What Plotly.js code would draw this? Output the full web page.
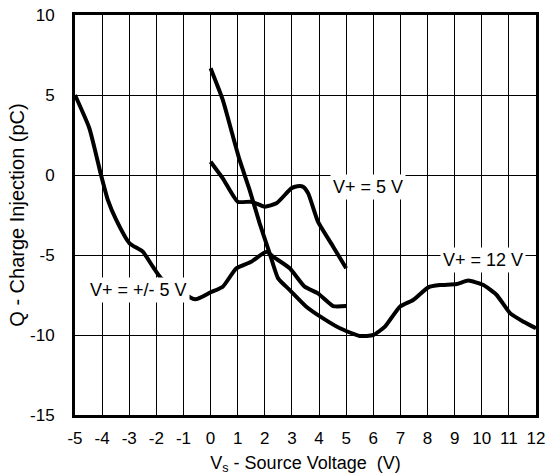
<!DOCTYPE html>
<html>
<head>
<meta charset="utf-8">
<script src="https://cdn.plot.ly/plotly-3.0.1.min.js"></script>
<style>html,body{margin:0;padding:0;background:#fff;}#chart{width:547px;height:476px;}</style>
</head>
<body>
<div id="chart"></div>
<script>
// V+ = +/- 5 V
const xPM5 = [-5, -4.47, -4.04, -3.79, -3.48, -2.99, -2.5, -2.13, -1.82, -0.57, 0.0, 0.45, 0.95, 1.5, 2.06, 2.3, 2.92, 3.47, 3.96, 4.52, 5.0];
const yPM5 = [5, 2.92, 0, -1.56, -2.81, -4.27, -4.79, -5.73, -6.46, -7.77, -7.33, -6.98, -5.83, -5.42, -4.79, -5.1, -5.83, -6.98, -7.4, -8.19, -8.19];
// V+ = 5 V
const x5 = [0, 0.45, 1.0, 1.5, 2.0, 2.43, 2.98, 3.2, 3.41, 3.6, 3.96, 4.52, 5.0];
const y5 = [0.83, -0.21, -1.67, -1.67, -1.98, -1.77, -0.83, -0.7, -0.73, -1.15, -2.92, -4.48, -5.83];
// V+ = 12 V
const x12 = [0, 0.45, 0.76, 1.07, 1.44, 1.81, 2.18, 2.49, 2.92, 3.53, 4.15, 4.77, 5.5, 6.0, 6.43, 6.98, 7.47, 8.03, 8.46, 9.08, 9.5, 10.06, 10.55, 11.05, 11.54, 12.0];
const y12 = [6.67, 4.69, 2.81, 0.94, -0.94, -3.02, -4.9, -6.46, -7.19, -8.23, -8.96, -9.58, -10.06, -10.0, -9.48, -8.23, -7.81, -7.02, -6.88, -6.81, -6.6, -6.88, -7.5, -8.65, -9.17, -9.58];

const xTicks = [-5,-4,-3,-2,-1,0,1,2,3,4,5,6,7,8,9,10,11,12];
const yTicks = [-15,-10,-5,0,5,10];
const labels = [
  {text: 'V+ = 5 V', x: 5.82, y: -0.75},
  {text: 'V+ = 12 V', x: 10.03, y: -5.31},
  {text: 'V+ = +/- 5 V', x: -2.66, y: -7.19}
];

const lineStyle = {color: '#000', width: 4, shape: 'spline', smoothing: 0.5};
const traces = [
  {x: xPM5, y: yPM5, mode: 'lines', line: lineStyle, hoverinfo: 'none'},
  {x: x5, y: y5, mode: 'lines', line: lineStyle, hoverinfo: 'none'},
  {x: x12, y: y12, mode: 'lines', line: lineStyle, hoverinfo: 'none'}
];

const fam = '"Liberation Sans", Arial, sans-serif';
const tickFont = {family: fam, size: 17, color: '#000'};
const annFont = {family: fam, size: 18, color: '#000'};
const xTitleFont = {family: fam, size: 18, color: '#000'};
const yTitleFont = {family: fam, size: 20, color: '#000'};
const layout = {
  width: 547, height: 476,
  margin: {l: 75, r: 11, t: 15, b: 61},
  paper_bgcolor: '#fff', plot_bgcolor: '#fff',
  showlegend: false,
  font: tickFont,
  xaxis: {
    range: [-5, 12], tickvals: xTicks, ticktext: xTicks.map(String),
    showgrid: true, gridcolor: '#000', gridwidth: 1,
    showline: true, linecolor: '#000', linewidth: 3, mirror: true,
    zeroline: false, ticks: '', ticklabelstandoff: 6,
    tickfont: tickFont,
    title: {text: 'V<sub>s</sub> - Source Voltage  (V)', font: xTitleFont, standoff: 9}
  },
  yaxis: {
    range: [-15, 10], tickvals: yTicks, ticktext: yTicks.map(String),
    showgrid: true, gridcolor: '#000', gridwidth: 1,
    showline: true, linecolor: '#000', linewidth: 3, mirror: true,
    zeroline: false, ticks: '', ticklabelstandoff: 14,
    tickfont: tickFont,
    title: {text: 'Q - Charge Injection (pC)', font: yTitleFont, standoff: 1}
  },
  annotations: labels.map(l => ({
    x: l.x, y: l.y, xref: 'x', yref: 'y', text: l.text, showarrow: false,
    bgcolor: '#fff', font: annFont, borderpad: 2
  }))
};

Plotly.newPlot('chart', traces, layout, {staticPlot: true});
</script>
</body>
</html>
